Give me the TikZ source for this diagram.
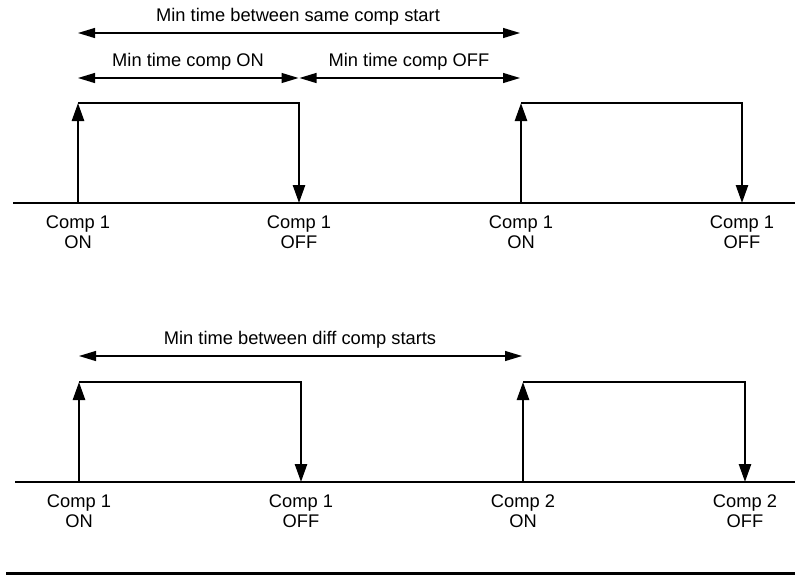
\documentclass[tikz,border=0pt]{standalone}
\usepackage{fontspec}
\setmainfont{Liberation Sans}
\usetikzlibrary{arrows.meta}
\begin{document}
\begin{tikzpicture}[x=1pt,y=-1pt,
  lbl/.style={font=\fontsize{18.3}{20}\selectfont, align=center, inner sep=0pt},
  axisline/.style={line width=1.3pt},
  bottomrule/.style={line width=3.5pt},
  rise/.style={line width=2.6pt, -{Triangle[length=18pt,width=12pt]}},
  fall/.style={line width=2.6pt, line join=miter, -{Triangle[length=18pt,width=12pt]}},
  dimarrow/.style={line width=1.2pt, {Triangle[length=17pt,width=10pt]}-{Triangle[length=17pt,width=10pt]}}]
\useasboundingbox (0,0) rectangle (795,576);

% ---------------- top diagram ----------------
\node[lbl] (tsame) at (298,17) {Min time between same comp start};
\coordinate (sameL) at (78,33);
\coordinate (sameR) at (520,33);
\draw[dimarrow] (sameL) -- (sameR);

\node[lbl] (ton) at (188,62) {Min time comp ON};
\node[lbl] (toff) at (409,62) {Min time comp OFF};
\coordinate (onL) at (78,78);
\coordinate (onR) at (298.5,78);
\coordinate (offL) at (299.5,78);
\coordinate (offR) at (520,78);
\draw[dimarrow] (onL) -- (onR);
\draw[dimarrow] (offL) -- (offR);

\coordinate (axAL) at (13,203);
\coordinate (axAR) at (795,203);
\draw[axisline] (axAL) -- (axAR);

\coordinate (a1b) at (78,203);  \coordinate (a1t) at (78,103);
\coordinate (a2b) at (299,203); \coordinate (a2t) at (299,103);
\coordinate (a3b) at (521,203); \coordinate (a3t) at (521,103);
\coordinate (a4b) at (742,203); \coordinate (a4t) at (742,103);
\draw[rise] (a1b) -- (a1t);
\draw[fall] (a1t) -- (a2t) -- (a2b);
\draw[rise] (a3b) -- (a3t);
\draw[fall] (a3t) -- (a4t) -- (a4b);

\node[lbl] (la1) at (78,232) {Comp 1\\ON};
\node[lbl] (la2) at (299,232) {Comp 1\\OFF};
\node[lbl] (la3) at (521,232) {Comp 1\\ON};
\node[lbl] (la4) at (742,232) {Comp 1\\OFF};

% ---------------- bottom diagram ----------------
\node[lbl] (tdiff) at (300,340) {Min time between diff comp starts};
\coordinate (diffL) at (79,356);
\coordinate (diffR) at (522,356);
\draw[dimarrow] (diffL) -- (diffR);

\coordinate (axBL) at (15,482);
\coordinate (axBR) at (795,482);
\draw[axisline] (axBL) -- (axBR);

\coordinate (b1b) at (79,482);  \coordinate (b1t) at (79,382);
\coordinate (b2b) at (301,482); \coordinate (b2t) at (301,382);
\coordinate (b3b) at (523,482); \coordinate (b3t) at (523,382);
\coordinate (b4b) at (745,482); \coordinate (b4t) at (745,382);
\draw[rise] (b1b) -- (b1t);
\draw[fall] (b1t) -- (b2t) -- (b2b);
\draw[rise] (b3b) -- (b3t);
\draw[fall] (b3t) -- (b4t) -- (b4b);

\node[lbl] (lb1) at (79,511) {Comp 1\\ON};
\node[lbl] (lb2) at (301,511) {Comp 1\\OFF};
\node[lbl] (lb3) at (523,511) {Comp 2\\ON};
\node[lbl] (lb4) at (745,511) {Comp 2\\OFF};

% ---------------- bottom rule ----------------
\coordinate (ruleL) at (6,573.5);
\coordinate (ruleR) at (795,573.5);
\draw[bottomrule] (ruleL) -- (ruleR);
\end{tikzpicture}
\end{document}
